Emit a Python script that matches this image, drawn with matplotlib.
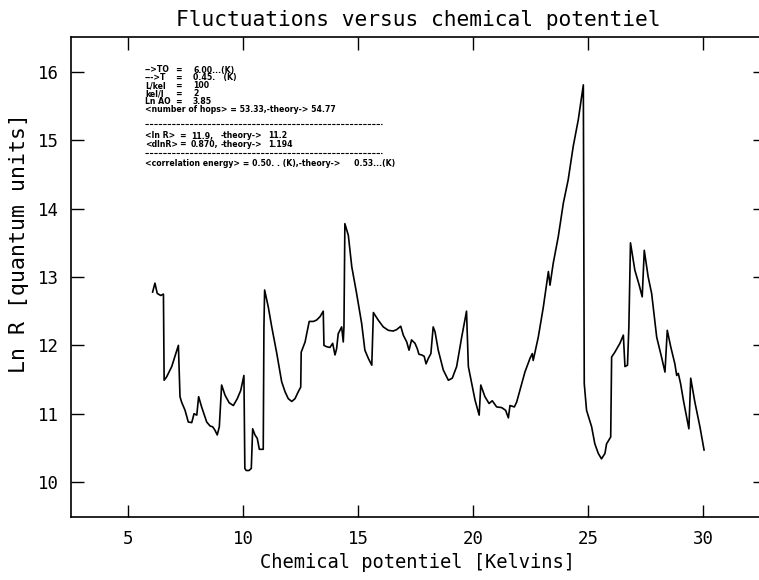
import matplotlib
matplotlib.use("Agg")
import matplotlib.pyplot as plt
from matplotlib.lines import Line2D

mu = [6.07, 6.17, 6.27, 6.42, 6.54, 6.57, 6.68, 6.90, 7.19, 7.26, 7.33, 7.48, 7.62, 7.77,
      7.87, 7.99, 8.07, 8.20, 8.42, 8.57, 8.68, 8.78, 8.88, 8.97, 9.07, 9.22, 9.40, 9.58,
      9.75, 9.90, 10.04, 10.08, 10.14, 10.26, 10.36, 10.42, 10.52, 10.62, 10.71, 10.88,
      10.91, 10.94, 11.10, 11.25, 11.47, 11.68, 11.83, 11.97, 12.12, 12.26, 12.40, 12.51,
      12.53, 12.70, 12.77, 12.88, 13.06, 13.20, 13.35, 13.49, 13.52, 13.64, 13.78, 13.90,
      14.00, 14.07, 14.14, 14.29, 14.36, 14.39, 14.43, 14.58, 14.73, 14.94, 15.16, 15.30,
      15.45, 15.60, 15.67, 15.88, 16.10, 16.32, 16.53, 16.68, 16.86, 16.97, 17.12, 17.22,
      17.33, 17.48, 17.58, 17.65, 17.77, 17.88, 17.96, 18.06, 18.17, 18.27, 18.35, 18.49,
      18.71, 18.93, 19.10, 19.29, 19.51, 19.72, 19.80, 20.09, 20.27, 20.34, 20.52, 20.70,
      20.84, 21.03, 21.25, 21.42, 21.54, 21.61, 21.80, 21.90, 22.04, 22.26, 22.48, 22.58,
      22.62, 22.84, 23.06, 23.28, 23.35, 23.49, 23.71, 23.93, 24.14, 24.36, 24.58, 24.80,
      24.84, 24.94, 25.16, 25.30, 25.45, 25.59, 25.74, 25.81, 25.99, 26.03, 26.17, 26.39,
      26.54, 26.61, 26.72, 26.78, 26.85, 27.04, 27.23, 27.36, 27.45, 27.62, 27.77, 27.87,
      27.99, 28.20, 28.35, 28.45, 28.60, 28.78, 28.86, 28.93, 29.03, 29.15, 29.29, 29.39,
      29.47, 29.65, 29.87, 30.05]
lnR = [12.78, 12.91, 12.76, 12.73, 12.75, 11.49, 11.54, 11.69, 12.00, 11.25, 11.17, 11.05,
       10.88, 10.87, 11.00, 10.98, 11.25, 11.10, 10.88, 10.82, 10.81, 10.76, 10.69, 10.81,
       11.42, 11.27, 11.16, 11.12, 11.22, 11.34, 11.56, 10.20, 10.17, 10.17, 10.20, 10.78,
       10.69, 10.64, 10.48, 10.48, 12.27, 12.81, 12.56, 12.27, 11.88, 11.47, 11.32, 11.22,
       11.18, 11.22, 11.32, 11.39, 11.90, 12.05, 12.17, 12.35, 12.35, 12.37, 12.42, 12.50,
       12.00, 11.98, 11.97, 12.03, 11.86, 11.95, 12.17, 12.27, 12.05, 12.27, 13.78, 13.61,
       13.15, 12.76, 12.32, 11.93, 11.81, 11.71, 12.48, 12.37, 12.27, 12.22, 12.21, 12.23,
       12.28, 12.15, 12.05, 11.93, 12.08, 12.03, 11.95, 11.87, 11.86, 11.84, 11.73, 11.81,
       11.88, 12.27, 12.20, 11.93, 11.64, 11.49, 11.52, 11.69, 12.12, 12.50, 11.69, 11.20,
       10.98, 11.42, 11.25, 11.15, 11.19, 11.10, 11.09, 11.05, 10.94, 11.12, 11.10, 11.17,
       11.34, 11.61, 11.81, 11.88, 11.78, 12.12, 12.56, 13.08, 12.88, 13.20, 13.59, 14.08,
       14.42, 14.91, 15.30, 15.81, 11.44, 11.05, 10.81, 10.56, 10.42, 10.34, 10.42, 10.56,
       10.66, 11.83, 11.90, 12.03, 12.15, 11.69, 11.71, 12.27, 13.50, 13.10, 12.88, 12.71,
       13.39, 13.00, 12.76, 12.47, 12.12, 11.83, 11.61, 12.22, 11.98, 11.73, 11.56, 11.59,
       11.44, 11.20, 10.95, 10.78, 11.52, 11.17, 10.81, 10.47]

xticks = [5, 10, 15, 20, 25, 30]
yticks = [10, 11, 12, 13, 14, 15, 16]

param_names = ["-->TO", "--->T", "L/kel", "kel/l", "Ln AO"]
param_values = ["6.00...(K)", "0.45.   (K)", "100", "2", "3.85"]
hops_line = "<number of hops> = 53.33,-theory-> 54.77"
stat_names = ["<ln R>", "<dlnR>"]
stat_values = ["11.9,", "0.870,"]
stat_theory = ["11.2", "1.194"]
corr_line = "<correlation energy> = 0.50. . (K),-theory->     0.53...(K)"

W, H = 759, 580
fig = plt.figure(figsize=(W / 100, H / 100), dpi=100)
ax_l, ax_r, ax_t, ax_b = 71, 765, 37, 517
ax = fig.add_axes([ax_l / W, 1 - ax_b / H, (ax_r - ax_l) / W, (ax_b - ax_t) / H])

ax.plot(mu, lnR, color="black", lw=1.2)
ax.set_xlim(2.52, 32.70)
ax.set_ylim(9.49, 16.51)
ax.set_xticks(xticks)
ax.set_yticks(yticks)
ax.tick_params(direction="in", length=9, width=1.0, top=True, right=True,
               labelsize=12.5, pad=9)
for lab in ax.get_xticklabels() + ax.get_yticklabels():
    lab.set_family("DejaVu Sans Mono")
for s in ax.spines.values():
    s.set_linewidth(1.2)

ax.set_title("Fluctuations versus chemical potentiel", fontsize=15.3,
             family="DejaVu Sans Mono", pad=8)
ax.set_xlabel("Chemical potentiel [Kelvins]", fontsize=13.5,
              family="DejaVu Sans Mono", labelpad=4)
ax.set_ylabel("Ln R [quantum units]", fontsize=15.5,
              family="DejaVu Sans Mono")
ax.yaxis.set_label_coords(-0.061, (ax_b - 243) / (ax_b - ax_t))

fs = 5.6
tfam = "DejaVu Sans"


def t(px, py, s):
    fig.text(px / W, 1 - py / H, s, fontsize=fs, fontweight="bold",
             family=tfam, va="center", ha="left")


y = 70
for name, val in zip(param_names, param_values):
    t(145, y, name)
    t(175, y, "=")
    t(193, y, val)
    y += 8
t(145, 110, hops_line)
y = 136
for name, val, th in zip(stat_names, stat_values, stat_theory):
    t(145, y, name)
    t(179, y, "=")
    t(191, y, val)
    t(221, y, "-theory->")
    t(268, y, th)
    y += 8.5
t(145, 163, corr_line)

for yy in (124, 153):
    fig.add_artist(Line2D([145 / W, 382 / W], [1 - yy / H, 1 - yy / H],
                          transform=fig.transFigure, color="black", lw=0.8,
                          linestyle=(0, (3, 1))))

fig.savefig("out.png", dpi=100)
